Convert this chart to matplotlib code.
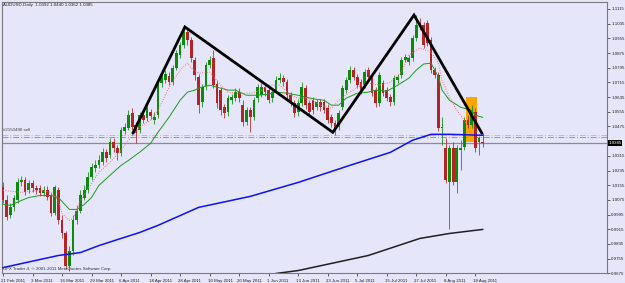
"""
AUDUSD daily candles with moving averages and a hand-drawn zigzag,
redrawn in the style of an MT4 chart window.

Output: out.png
"""

import matplotlib

matplotlib.use("Agg")
import matplotlib.pyplot as plt
import matplotlib.transforms as mtransforms
from matplotlib.patches import Rectangle

plt.rcParams["font.family"] = ["Liberation Sans", "DejaVu Sans"]

# daily bars, 21 Feb 2011 .. 22 Aug 2011
opens = [
    1.0143, 1.0072, 0.9990, 1.0034, 1.0072, 1.0170, 1.0181, 1.0127, 1.0165, 1.0138,
    1.0138, 1.0110, 1.0127, 1.0094, 1.0001, 1.0127, 0.9963, 0.9892, 0.9717, 0.9799,
    0.9963, 1.0017, 1.0083, 1.0127, 1.0198, 1.0247, 1.0263, 1.0280, 1.0334, 1.0318,
    1.0389, 1.0356, 1.0329, 1.0449, 1.0465, 1.0547, 1.0481, 1.0454, 1.0536, 1.0520,
    1.0552, 1.0509, 1.0536, 1.0711, 1.0727, 1.0749, 1.0716, 1.0793, 1.0864, 1.0918,
    1.0989, 1.0946, 1.0836, 1.0744, 1.0607, 1.0694, 1.0809, 1.0847, 1.0705, 1.0673,
    1.0580, 1.0552, 1.0618, 1.0629, 1.0662, 1.0591, 1.0498, 1.0563, 1.0525, 1.0629,
    1.0645, 1.0689, 1.0673, 1.0629, 1.0673, 1.0727, 1.0738, 1.0716, 1.0645, 1.0602,
    1.0552, 1.0602, 1.0684, 1.0602, 1.0618, 1.0580, 1.0607, 1.0607, 1.0574, 1.0525,
    1.0492, 1.0471, 1.0580, 1.0673, 1.0727, 1.0782, 1.0744, 1.0716, 1.0700, 1.0782,
    1.0744, 1.0673, 1.0602, 1.0711, 1.0673, 1.0634, 1.0607, 1.0727, 1.0755, 1.0836,
    1.0826, 1.0847, 1.0957, 1.1038, 1.1028, 1.1038, 1.0946, 1.0782, 1.0755, 1.0465,
    1.0356, 1.0170, 1.0356, 1.0170, 1.0345, 1.0361, 1.0509, 1.0481, 1.0552, 1.0389,
    1.0392,
]
highs = [
    1.0170, 1.0099, 1.0056, 1.0099, 1.0192, 1.0203, 1.0198, 1.0181, 1.0181, 1.0154,
    1.0154, 1.0148, 1.0148, 1.0110, 1.0154, 1.0143, 0.9990, 0.9908, 0.9826, 0.9990,
    1.0045, 1.0127, 1.0154, 1.0225, 1.0274, 1.0290, 1.0318, 1.0356, 1.0350, 1.0410,
    1.0410, 1.0372, 1.0471, 1.0492, 1.0563, 1.0574, 1.0498, 1.0552, 1.0563, 1.0596,
    1.0569, 1.0552, 1.0727, 1.0765, 1.0782, 1.0771, 1.0809, 1.0891, 1.0935, 1.1017,
    1.1006, 1.0962, 1.0853, 1.0760, 1.0705, 1.0826, 1.0858, 1.0891, 1.0727, 1.0689,
    1.0596, 1.0645, 1.0651, 1.0684, 1.0684, 1.0618, 1.0580, 1.0580, 1.0634, 1.0705,
    1.0711, 1.0705, 1.0689, 1.0678, 1.0749, 1.0765, 1.0755, 1.0733, 1.0662, 1.0618,
    1.0623, 1.0716, 1.0700, 1.0618, 1.0634, 1.0623, 1.0623, 1.0623, 1.0596, 1.0542,
    1.0509, 1.0563, 1.0700, 1.0744, 1.0804, 1.0798, 1.0760, 1.0733, 1.0787, 1.0798,
    1.0760, 1.0689, 1.0771, 1.0727, 1.0689, 1.0651, 1.0755, 1.0760, 1.0853, 1.0869,
    1.0864, 1.0973, 1.1082, 1.1066, 1.1044, 1.1055, 1.0962, 1.0798, 1.0771, 1.0525,
    1.0410, 1.0372, 1.0389, 1.0372, 1.0400, 1.0525, 1.0536, 1.0591, 1.0574, 1.0421,
    1.0440,
]
lows = [
    1.0056, 0.9963, 0.9974, 1.0017, 1.0056, 1.0148, 1.0099, 1.0110, 1.0116, 1.0105,
    1.0094, 1.0094, 1.0072, 0.9985, 0.9990, 0.9946, 0.9865, 0.9701, 0.9690, 0.9772,
    0.9946, 1.0001, 1.0072, 1.0110, 1.0181, 1.0225, 1.0247, 1.0263, 1.0280, 1.0301,
    1.0334, 1.0290, 1.0312, 1.0432, 1.0454, 1.0454, 1.0383, 1.0438, 1.0492, 1.0503,
    1.0514, 1.0487, 1.0520, 1.0689, 1.0711, 1.0700, 1.0700, 1.0782, 1.0847, 1.0902,
    1.0918, 1.0826, 1.0727, 1.0547, 1.0580, 1.0673, 1.0793, 1.0684, 1.0574, 1.0536,
    1.0520, 1.0531, 1.0596, 1.0613, 1.0607, 1.0476, 1.0481, 1.0443, 1.0509, 1.0607,
    1.0634, 1.0640, 1.0602, 1.0607, 1.0656, 1.0711, 1.0694, 1.0623, 1.0585, 1.0525,
    1.0531, 1.0585, 1.0569, 1.0531, 1.0542, 1.0563, 1.0558, 1.0547, 1.0492, 1.0471,
    1.0427, 1.0454, 1.0563, 1.0656, 1.0711, 1.0727, 1.0684, 1.0651, 1.0684, 1.0727,
    1.0640, 1.0580, 1.0585, 1.0640, 1.0613, 1.0585, 1.0591, 1.0711, 1.0738, 1.0826,
    1.0809, 1.0831, 1.0940, 1.1000, 1.0902, 1.0913, 1.0765, 1.0738, 1.0449, 1.0372,
    1.0165, 0.9919, 1.0154, 1.0110, 1.0236, 1.0345, 1.0465, 1.0465, 1.0334, 1.0318,
    1.0362,
]
closes = [
    1.0072, 0.9979, 1.0034, 1.0083, 1.0170, 1.0181, 1.0116, 1.0165, 1.0138, 1.0127,
    1.0110, 1.0127, 1.0088, 1.0001, 1.0143, 0.9963, 0.9892, 0.9717, 0.9799, 0.9963,
    1.0017, 1.0099, 1.0127, 1.0198, 1.0252, 1.0263, 1.0290, 1.0334, 1.0301, 1.0389,
    1.0356, 1.0329, 1.0454, 1.0471, 1.0536, 1.0471, 1.0438, 1.0536, 1.0509, 1.0574,
    1.0531, 1.0525, 1.0711, 1.0744, 1.0760, 1.0716, 1.0793, 1.0875, 1.0918, 1.0989,
    1.0946, 1.0847, 1.0755, 1.0591, 1.0689, 1.0809, 1.0836, 1.0700, 1.0602, 1.0563,
    1.0547, 1.0629, 1.0634, 1.0662, 1.0629, 1.0498, 1.0563, 1.0525, 1.0618, 1.0689,
    1.0689, 1.0662, 1.0618, 1.0662, 1.0727, 1.0738, 1.0716, 1.0645, 1.0602, 1.0547,
    1.0602, 1.0689, 1.0591, 1.0552, 1.0563, 1.0607, 1.0580, 1.0563, 1.0509, 1.0492,
    1.0454, 1.0547, 1.0684, 1.0727, 1.0782, 1.0744, 1.0700, 1.0673, 1.0771, 1.0744,
    1.0656, 1.0602, 1.0755, 1.0656, 1.0629, 1.0607, 1.0738, 1.0744, 1.0836, 1.0853,
    1.0847, 1.0957, 1.1028, 1.1017, 1.0918, 1.0929, 1.0782, 1.0755, 1.0465, 1.0471,
    1.0181, 1.0356, 1.0170, 1.0356, 1.0356, 1.0509, 1.0481, 1.0563, 1.0356, 1.0410,
    1.0385,
]

# moving averages, sampled at bar indices
green_ma_bars = [0, 2, 5, 7, 10, 13, 15, 18, 20, 22, 24, 26, 29, 32, 34, 37, 40, 42,
                 45, 48, 50, 52, 53, 56, 58, 61, 63, 66, 69, 72, 74, 77, 80, 82, 85,
                 87, 89, 91, 93, 96, 99, 101, 104, 107, 110, 112, 114, 116, 118, 119,
                 121, 124, 127, 128, 130]
green_ma = [1.0050, 1.0045, 1.0072, 1.0088, 1.0099, 1.0099, 1.0088, 1.0023, 1.0023,
            1.0050, 1.0088, 1.0154, 1.0209, 1.0263, 1.0290, 1.0334, 1.0383, 1.0443,
            1.0525, 1.0618, 1.0662, 1.0673, 1.0684, 1.0700, 1.0689, 1.0673, 1.0673,
            1.0645, 1.0645, 1.0651, 1.0662, 1.0656, 1.0645, 1.0634, 1.0623, 1.0618,
            1.0591, 1.0591, 1.0629, 1.0656, 1.0662, 1.0673, 1.0667, 1.0700, 1.0738,
            1.0782, 1.0815, 1.0820, 1.0744, 1.0673, 1.0618, 1.0580, 1.0563, 1.0536,
            1.0525]

red_ma_bars = [0, 5, 10, 13, 15, 16, 18, 19, 21, 24, 26, 29, 32, 34, 37, 40, 42, 45,
               48, 50, 51, 53, 56, 59, 61, 64, 67, 70, 72, 75, 78, 80, 83, 86, 89, 91,
               94, 97, 99, 102, 105, 108, 110, 113, 116, 118, 119, 121, 123, 125, 127]
red_ma = [1.0127, 1.0116, 1.0127, 1.0116, 1.0072, 1.0001, 0.9963, 0.9974, 1.0072,
          1.0165, 1.0225, 1.0280, 1.0345, 1.0400, 1.0471, 1.0509, 1.0563, 1.0689,
          1.0782, 1.0820, 1.0793, 1.0765, 1.0771, 1.0700, 1.0662, 1.0656, 1.0656,
          1.0673, 1.0700, 1.0700, 1.0645, 1.0629, 1.0629, 1.0591, 1.0574, 1.0618,
          1.0662, 1.0700, 1.0711, 1.0700, 1.0716, 1.0771, 1.0864, 1.0902, 1.0880,
          1.0820, 1.0727, 1.0634, 1.0563, 1.0509, 1.0438]

blue_ma_bars = [0, 5, 10, 15, 21, 26, 32, 37, 42, 53, 67, 80, 94, 105, 111, 116, 121, 130]
blue_ma = [0.9706, 0.9728, 0.9750, 0.9772, 0.9788, 0.9826, 0.9865, 0.9897, 0.9936,
           1.0034, 1.0094, 1.0170, 1.0263, 1.0334, 1.0400, 1.0432, 1.0432, 1.0427]

black_ma_bars = [74, 80, 99, 113, 121, 130]
black_ma = [0.9674, 0.9690, 0.9772, 0.9865, 0.9892, 0.9914]

# zigzag drawn on the chart (bar, price)
zigzag_bars = [35.2, 49.3, 89.4, 111.4, 129.8]
zigzag_prices = [1.0438, 1.1017, 1.0443, 1.1082, 1.0438]

# orange box over the last bars
box_bars = [125.5, 128.5]
box_prices = [1.0389, 1.0634]

order_price = 1.0427
stop_price = 1.0416
bid_price = 1.0385

price_ticks = ["1.1115", "1.1035", "1.0955", "1.0875", "1.0795", "1.0715", "1.0635",
               "1.0555", "1.0475", "1.0315", "1.0235", "1.0155", "1.0075", "0.9995",
               "0.9915", "0.9835", "0.9755", "0.9675"]

date_bars = [0, 8, 16, 24, 32, 40, 48, 56, 64, 72, 80, 88, 96, 104, 112, 120, 128]
date_labels = ["21 Feb 2011", "3 Mar 2011", "16 Mar 2011", "29 Mar 2011", "6 Apr 2011",
               "18 Apr 2011", "28 Apr 2011", "10 May 2011", "20 May 2011", "1 Jun 2011",
               "13 Jun 2011", "23 Jun 2011", "5 Jul 2011", "15 Jul 2011", "27 Jul 2011",
               "8 Aug 2011", "18 Aug 2011"]

BG = "#E6E6FA"
UP = "#0B8A0B"
DOWN = "#B52424"
SMALL = 3.2


def draw_candles(ax):
    for i, (o, h, l, c) in enumerate(zip(opens, highs, lows, closes)):
        color = UP if c >= o else DOWN
        ax.vlines(i, l, h, color=color, lw=0.7, alpha=0.8, zorder=3)
        body = max(abs(c - o), 0.00025)
        ax.bar(i, body, bottom=min(o, c), width=0.74, color=color, lw=0, zorder=4)


def main() -> None:
    fig = plt.figure(figsize=(6.25, 2.83), dpi=100)
    fig.patch.set_facecolor(BG)
    ax = fig.add_axes([2 / 625, 9.7 / 283, 605 / 625, 271.3 / 283])
    ax.set_facecolor(BG)

    ax.add_patch(Rectangle((box_bars[0], box_prices[0]), box_bars[1] - box_bars[0],
                           box_prices[1] - box_prices[0], color="#FFA500", lw=0, zorder=1))

    ax.axhline(order_price, color="#9ADA9A", lw=0.7, ls=(0, (6, 2, 1, 2)), zorder=2)
    ax.axhline(stop_price, color="#EE7070", lw=0.7, ls=(0, (6, 2, 1, 2)), zorder=2)
    ax.axhline(bid_price, color="#8C8C8C", lw=0.9, zorder=2)

    draw_candles(ax)

    ax.plot(blue_ma_bars, blue_ma, color="#1010F0", lw=1.1, zorder=5)
    ax.plot(black_ma_bars, black_ma, color="#202020", lw=1.1, zorder=5)
    ax.plot(green_ma_bars, green_ma, color="#1E9A1E", lw=0.7, zorder=5)
    ax.plot(red_ma_bars, red_ma, color="#F07070", lw=0.7, ls=(0, (1, 1.5)), zorder=5)
    ax.plot(zigzag_bars, zigzag_prices, color="black", lw=2.0,
            solid_capstyle="round", solid_joinstyle="miter", zorder=6)

    ax.set_xlim(-0.27, 163.7)
    ax.set_ylim(0.9675, 1.1153)

    # price scale on the right
    ax.yaxis.tick_right()
    ax.set_yticks([float(t) for t in price_ticks])
    ax.set_yticklabels(price_ticks)
    ax.tick_params(axis="y", labelsize=SMALL, length=2, width=0.5, pad=1,
                   colors="#222222")

    ax.set_xticks(date_bars)
    ax.set_xticklabels(date_labels)
    ax.tick_params(axis="x", labelsize=SMALL, length=2, width=0.5, pad=2,
                   colors="#222222")
    shift = mtransforms.ScaledTranslation(-2 / 100, 0, fig.dpi_scale_trans)
    for lbl in ax.get_xticklabels():
        lbl.set_horizontalalignment("left")
        lbl.set_transform(lbl.get_transform() + shift)

    for side, spine in ax.spines.items():
        spine.set_color("#7A7A7A")
        spine.set_linewidth(0.8)

    ax.text(1 / 605, 1 - 3 / 271.3, "AUDUSD,Daily  1.0392 1.0440 1.0362 1.0385",
            transform=ax.transAxes, fontsize=SMALL, va="center", ha="left",
            color="#222222")
    ax.text(1 / 605, 1.0447, "#2150488 sell", fontsize=SMALL, va="bottom", ha="left",
            color="#444444", transform=mtransforms.blended_transform_factory(
                ax.transAxes, ax.transData))
    ax.text(1 / 605, 2.5 / 271.3, "UFX Trader 4, \u00a9 2001-2011 MetaQuotes Software Corp.",
            transform=ax.transAxes, fontsize=SMALL, va="bottom", ha="left",
            color="#333333")

    ax.text(1.0 + 1.5 / 605, bid_price, "1.0385", fontsize=SMALL, va="center",
            ha="left", color="white", clip_on=False,
            transform=mtransforms.blended_transform_factory(ax.transAxes, ax.transData),
            bbox=dict(boxstyle="square,pad=0.15", fc="black", ec="none"))

    fig.savefig("out.png", dpi=100, facecolor=BG)
    plt.close(fig)


if __name__ == "__main__":
    main()
